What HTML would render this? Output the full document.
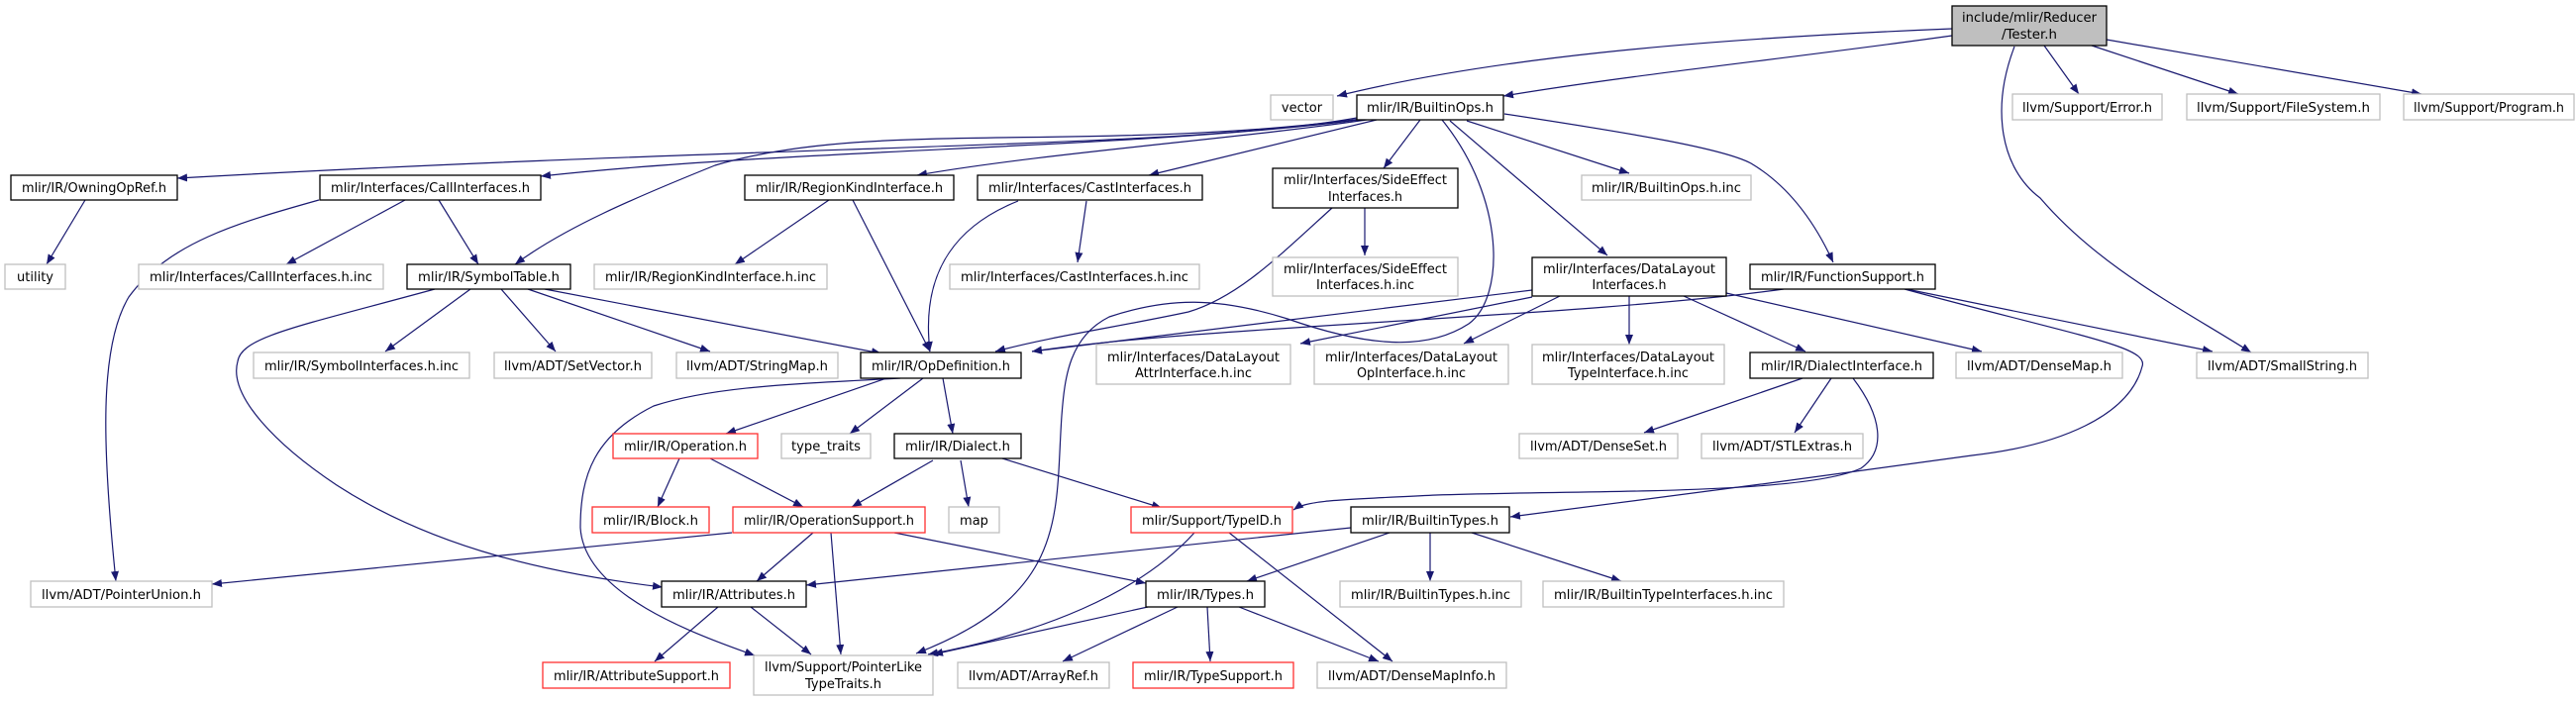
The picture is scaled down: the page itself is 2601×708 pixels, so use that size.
<!DOCTYPE html>
<html><head><meta charset="utf-8"><style>
html,body{margin:0;padding:0;background:#fff;}
svg{display:block;}
text{font-family:"DejaVu Sans","Liberation Sans",sans-serif;font-size:13px;fill:#000;}
.b{fill:#fff;stroke:#000;stroke-width:1.3}
.g{fill:#fff;stroke:#bfbfbf;stroke-width:1.3}
.r{fill:#fff;stroke:#ff3030;stroke-width:1.3}
.e{fill:none;stroke:#191970;stroke-width:1.2;marker-end:url(#a)}
</style></head><body>
<svg width="2601" height="708" viewBox="0 0 2601 708" xmlns="http://www.w3.org/2000/svg">
<defs><marker id="a" viewBox="0 0 10 8" refX="10" refY="4" markerWidth="10" markerHeight="8" markerUnits="userSpaceOnUse" orient="auto"><path d="M0,0 L10,4 L0,8 z" fill="#191970"/></marker></defs>

<!-- edges -->
<path class="e" d="M1971,29 C1700,40 1500,60 1350,97"/>
<path class="e" d="M1971,36 C1800,60 1650,75 1518,97"/>
<path class="e" d="M2064,46 L2099,95"/>
<path class="e" d="M2112,46 L2260,95"/>
<path class="e" d="M2127,40 L2445,95"/>
<path class="e" d="M2034,47 C2010,110 2020,170 2060,200 C2120,270 2200,310 2273,356"/>
<path class="e" d="M1370,119 C1200,150 800,145 179,180"/>
<path class="e" d="M1372,121 C1150,150 800,150 546,178"/>
<path class="e" d="M1375,120 C1100,155 880,120 722,167 C640,200 570,230 520,267"/>
<path class="e" d="M1380,121 C1250,140 1050,155 926,177"/>
<path class="e" d="M1390,121 L1160,177"/>
<path class="e" d="M1434,121 L1397,170"/>
<path class="e" d="M1456,121 C1520,200 1520,300 1483,327 C1440,355 1380,350 1300,322 C1230,300 1180,300 1120,320 C1080,340 1075,380 1072,420 C1065,520 1080,600 925,660"/>
<path class="e" d="M1464,122 L1623,258"/>
<path class="e" d="M1481,122 L1645,175"/>
<path class="e" d="M1519,115 C1650,135 1740,150 1768,165 C1810,190 1835,230 1851,265"/>
<path class="e" d="M861,202 L939,355"/>
<path class="e" d="M1028,203 C960,230 930,280 939,355"/>
<path class="e" d="M1097,203 L1088,265"/>
<path class="e" d="M1345,210 C1290,260 1250,300 1200,315 C1130,330 1060,340 1005,355"/>
<path class="e" d="M1378,210 L1378,258"/>
<path class="e" d="M1547,293 L1042,355"/>
<path class="e" d="M1547,300 L1313,347"/>
<path class="e" d="M1575,299 L1478,347"/>
<path class="e" d="M1645,299 L1645,348"/>
<path class="e" d="M1700,299 L1823,355"/>
<path class="e" d="M1743,296 L2001,355"/>
<path class="e" d="M1801,292 C1600,320 1200,330 1042,355"/>
<path class="e" d="M1925,292 L2234,355"/>
<path class="e" d="M1923,292 C2100,340 2170,350 2163,370 C2150,420 2080,450 1991,460 C1850,480 1650,506 1525,522"/>
<path class="e" d="M86,202 L47,267"/>
<path class="e" d="M409,202 L289,267"/>
<path class="e" d="M443,202 L483,267"/>
<path class="e" d="M837,202 L742,267"/>
<path class="e" d="M322,202 C240,225 170,245 130,300 C100,350 103,450 117,587"/>
<path class="e" d="M475,292 L389,355"/>
<path class="e" d="M506,292 L561,355"/>
<path class="e" d="M533,292 L717,355"/>
<path class="e" d="M550,292 L890,357"/>
<path class="e" d="M439,292 C300,330 244,340 240,365 C230,400 280,450 340,490 C440,555 560,580 669,593"/>
<path class="e" d="M895,382 L733,438"/>
<path class="e" d="M932,382 L858,438"/>
<path class="e" d="M952,382 L962,438"/>
<path class="e" d="M909,382 C800,388 722,390 660,410 C600,440 586,480 586,533 C590,600 700,640 762,662"/>
<path class="e" d="M1820,382 L1660,437"/>
<path class="e" d="M1849,382 L1812,437"/>
<path class="e" d="M1871,382 C1900,420 1905,455 1879,473 C1820,500 1600,495 1450,500 C1350,505 1320,505 1306,515"/>
<path class="e" d="M686,463 L664,512"/>
<path class="e" d="M717,463 L811,512"/>
<path class="e" d="M942,465 L860,512"/>
<path class="e" d="M970,465 L978,512"/>
<path class="e" d="M1012,463 L1173,513"/>
<path class="e" d="M739,538 L214,590"/>
<path class="e" d="M821,538 L764,587"/>
<path class="e" d="M839,538 L849,661"/>
<path class="e" d="M903,538 L1157,589"/>
<path class="e" d="M1364,533 L814,591"/>
<path class="e" d="M1206,538 C1150,600 1050,640 937,661"/>
<path class="e" d="M1241,538 L1406,668"/>
<path class="e" d="M1403,538 L1259,587"/>
<path class="e" d="M1444,538 L1444,587"/>
<path class="e" d="M1486,538 L1637,587"/>
<path class="e" d="M725,613 L661,668"/>
<path class="e" d="M758,613 L819,661"/>
<path class="e" d="M1159,613 L942,661"/>
<path class="e" d="M1189,613 L1073,668"/>
<path class="e" d="M1219,613 L1222,668"/>
<path class="e" d="M1251,613 L1392,668"/>

<!-- nodes -->
<rect x="1971" y="6" width="156" height="40" fill="#bfbfbf" stroke="#000" stroke-width="1.3"/>
<text x="2049" y="22" text-anchor="middle" textLength="136" lengthAdjust="spacingAndGlyphs">include/mlir/Reducer</text>
<text x="2049" y="39" text-anchor="middle" textLength="56" lengthAdjust="spacingAndGlyphs">/Tester.h</text>

<rect class="g" x="1283" y="96" width="63" height="25"/><text x="1314.5" y="113" text-anchor="middle">vector</text>
<rect class="b" x="1370" y="96" width="148" height="25"/><text x="1444" y="113" text-anchor="middle" textLength="128" lengthAdjust="spacingAndGlyphs">mlir/IR/BuiltinOps.h</text>
<rect class="g" x="2032" y="95" width="151" height="26"/><text x="2107.5" y="113" text-anchor="middle" textLength="131" lengthAdjust="spacingAndGlyphs">llvm/Support/Error.h</text>
<rect class="g" x="2208" y="95" width="195" height="26"/><text x="2305.5" y="113" text-anchor="middle" textLength="175" lengthAdjust="spacingAndGlyphs">llvm/Support/FileSystem.h</text>
<rect class="g" x="2427" y="95" width="172" height="26"/><text x="2513" y="113" text-anchor="middle" textLength="152" lengthAdjust="spacingAndGlyphs">llvm/Support/Program.h</text>

<rect class="b" x="11" y="177" width="168" height="25"/><text x="95" y="194" text-anchor="middle" textLength="146" lengthAdjust="spacingAndGlyphs">mlir/IR/OwningOpRef.h</text>
<rect class="b" x="323" y="177" width="223" height="25"/><text x="434.5" y="194" text-anchor="middle" textLength="201" lengthAdjust="spacingAndGlyphs">mlir/Interfaces/CallInterfaces.h</text>
<rect class="b" x="752" y="177" width="211" height="25"/><text x="857.5" y="194" text-anchor="middle" textLength="189" lengthAdjust="spacingAndGlyphs">mlir/IR/RegionKindInterface.h</text>
<rect class="b" x="987" y="177" width="227" height="25"/><text x="1100.5" y="194" text-anchor="middle" textLength="205" lengthAdjust="spacingAndGlyphs">mlir/Interfaces/CastInterfaces.h</text>
<rect class="b" x="1285" y="170" width="187" height="40"/>
<text x="1378.5" y="186" text-anchor="middle" textLength="165" lengthAdjust="spacingAndGlyphs">mlir/Interfaces/SideEffect</text>
<text x="1378.5" y="203" text-anchor="middle" textLength="75" lengthAdjust="spacingAndGlyphs">Interfaces.h</text>
<rect class="g" x="1597" y="177" width="171" height="25"/><text x="1682.5" y="194" text-anchor="middle" textLength="151" lengthAdjust="spacingAndGlyphs">mlir/IR/BuiltinOps.h.inc</text>

<rect class="g" x="5" y="267" width="61" height="25"/><text x="35.5" y="284" text-anchor="middle">utility</text>
<rect class="g" x="140" y="267" width="247" height="25"/><text x="263.5" y="284" text-anchor="middle" textLength="225" lengthAdjust="spacingAndGlyphs">mlir/Interfaces/CallInterfaces.h.inc</text>
<rect class="b" x="411" y="267" width="165" height="25"/><text x="493.5" y="284" text-anchor="middle" textLength="143" lengthAdjust="spacingAndGlyphs">mlir/IR/SymbolTable.h</text>
<rect class="g" x="600" y="267" width="235" height="25"/><text x="717.5" y="284" text-anchor="middle" textLength="213" lengthAdjust="spacingAndGlyphs">mlir/IR/RegionKindInterface.h.inc</text>
<rect class="g" x="959" y="267" width="252" height="25"/><text x="1085" y="284" text-anchor="middle" textLength="230" lengthAdjust="spacingAndGlyphs">mlir/Interfaces/CastInterfaces.h.inc</text>
<rect class="g" x="1285" y="260" width="187" height="39"/>
<text x="1378.5" y="276" text-anchor="middle" textLength="165" lengthAdjust="spacingAndGlyphs">mlir/Interfaces/SideEffect</text>
<text x="1378.5" y="292" text-anchor="middle" textLength="99" lengthAdjust="spacingAndGlyphs">Interfaces.h.inc</text>
<rect class="b" x="1547" y="260" width="196" height="39"/>
<text x="1645" y="276" text-anchor="middle" textLength="174" lengthAdjust="spacingAndGlyphs">mlir/Interfaces/DataLayout</text>
<text x="1645" y="292" text-anchor="middle" textLength="75" lengthAdjust="spacingAndGlyphs">Interfaces.h</text>
<rect class="b" x="1767" y="267" width="187" height="25"/><text x="1860.5" y="284" text-anchor="middle" textLength="165" lengthAdjust="spacingAndGlyphs">mlir/IR/FunctionSupport.h</text>

<rect class="g" x="256" y="356" width="218" height="26"/><text x="365" y="374" text-anchor="middle" textLength="196" lengthAdjust="spacingAndGlyphs">mlir/IR/SymbolInterfaces.h.inc</text>
<rect class="g" x="499" y="356" width="159" height="26"/><text x="578.5" y="374" text-anchor="middle" textLength="139" lengthAdjust="spacingAndGlyphs">llvm/ADT/SetVector.h</text>
<rect class="g" x="683" y="356" width="163" height="26"/><text x="764.5" y="374" text-anchor="middle" textLength="143" lengthAdjust="spacingAndGlyphs">llvm/ADT/StringMap.h</text>
<rect class="b" x="869" y="356" width="162" height="26"/><text x="950" y="374" text-anchor="middle" textLength="140" lengthAdjust="spacingAndGlyphs">mlir/IR/OpDefinition.h</text>
<rect class="g" x="1107" y="348" width="196" height="40"/>
<text x="1205" y="365" text-anchor="middle" textLength="174" lengthAdjust="spacingAndGlyphs">mlir/Interfaces/DataLayout</text>
<text x="1205" y="381" text-anchor="middle" textLength="118" lengthAdjust="spacingAndGlyphs">AttrInterface.h.inc</text>
<rect class="g" x="1327" y="348" width="196" height="40"/>
<text x="1425" y="365" text-anchor="middle" textLength="174" lengthAdjust="spacingAndGlyphs">mlir/Interfaces/DataLayout</text>
<text x="1425" y="381" text-anchor="middle" textLength="110" lengthAdjust="spacingAndGlyphs">OpInterface.h.inc</text>
<rect class="g" x="1547" y="348" width="194" height="40"/>
<text x="1644" y="365" text-anchor="middle" textLength="174" lengthAdjust="spacingAndGlyphs">mlir/Interfaces/DataLayout</text>
<text x="1644" y="381" text-anchor="middle" textLength="122" lengthAdjust="spacingAndGlyphs">TypeInterface.h.inc</text>
<rect class="b" x="1767" y="356" width="185" height="26"/><text x="1859.5" y="374" text-anchor="middle" textLength="163" lengthAdjust="spacingAndGlyphs">mlir/IR/DialectInterface.h</text>
<rect class="g" x="1975" y="356" width="168" height="26"/><text x="2059" y="374" text-anchor="middle" textLength="146" lengthAdjust="spacingAndGlyphs">llvm/ADT/DenseMap.h</text>
<rect class="g" x="2218" y="356" width="173" height="26"/><text x="2304.5" y="374" text-anchor="middle" textLength="151" lengthAdjust="spacingAndGlyphs">llvm/ADT/SmallString.h</text>

<rect class="r" x="619" y="438" width="146" height="25"/><text x="692" y="455" text-anchor="middle" textLength="124" lengthAdjust="spacingAndGlyphs">mlir/IR/Operation.h</text>
<rect class="g" x="789" y="438" width="90" height="25"/><text x="834" y="455" text-anchor="middle" textLength="70" lengthAdjust="spacingAndGlyphs">type_traits</text>
<rect class="b" x="903" y="438" width="128" height="25"/><text x="967" y="455" text-anchor="middle" textLength="106" lengthAdjust="spacingAndGlyphs">mlir/IR/Dialect.h</text>
<rect class="g" x="1534" y="438" width="160" height="25"/><text x="1614" y="455" text-anchor="middle" textLength="138" lengthAdjust="spacingAndGlyphs">llvm/ADT/DenseSet.h</text>
<rect class="g" x="1718" y="438" width="163" height="25"/><text x="1799.5" y="455" text-anchor="middle" textLength="141" lengthAdjust="spacingAndGlyphs">llvm/ADT/STLExtras.h</text>

<rect class="r" x="598" y="512" width="118" height="26"/><text x="657" y="530" text-anchor="middle" textLength="96" lengthAdjust="spacingAndGlyphs">mlir/IR/Block.h</text>
<rect class="r" x="740" y="512" width="194" height="26"/><text x="837" y="530" text-anchor="middle" textLength="172" lengthAdjust="spacingAndGlyphs">mlir/IR/OperationSupport.h</text>
<rect class="g" x="958" y="512" width="51" height="26"/><text x="983.5" y="530" text-anchor="middle">map</text>
<rect class="r" x="1142" y="512" width="163" height="26"/><text x="1223.5" y="530" text-anchor="middle" textLength="141" lengthAdjust="spacingAndGlyphs">mlir/Support/TypeID.h</text>
<rect class="b" x="1364" y="512" width="160" height="26"/><text x="1444" y="530" text-anchor="middle" textLength="138" lengthAdjust="spacingAndGlyphs">mlir/IR/BuiltinTypes.h</text>

<rect class="g" x="31" y="587" width="183" height="26"/><text x="122.5" y="605" text-anchor="middle" textLength="161" lengthAdjust="spacingAndGlyphs">llvm/ADT/PointerUnion.h</text>
<rect class="b" x="668" y="587" width="146" height="26"/><text x="741" y="605" text-anchor="middle" textLength="124" lengthAdjust="spacingAndGlyphs">mlir/IR/Attributes.h</text>
<rect class="b" x="1157" y="587" width="120" height="26"/><text x="1217" y="605" text-anchor="middle" textLength="98" lengthAdjust="spacingAndGlyphs">mlir/IR/Types.h</text>
<rect class="g" x="1353" y="587" width="183" height="26"/><text x="1444.5" y="605" text-anchor="middle" textLength="161" lengthAdjust="spacingAndGlyphs">mlir/IR/BuiltinTypes.h.inc</text>
<rect class="g" x="1558" y="587" width="243" height="26"/><text x="1679.5" y="605" text-anchor="middle" textLength="221" lengthAdjust="spacingAndGlyphs">mlir/IR/BuiltinTypeInterfaces.h.inc</text>

<rect class="r" x="548" y="669" width="189" height="26"/><text x="642.5" y="687" text-anchor="middle" textLength="167" lengthAdjust="spacingAndGlyphs">mlir/IR/AttributeSupport.h</text>
<rect class="g" x="761" y="662" width="181" height="40"/>
<text x="851.5" y="678" text-anchor="middle" textLength="159" lengthAdjust="spacingAndGlyphs">llvm/Support/PointerLike</text>
<text x="851.5" y="695" text-anchor="middle" textLength="77" lengthAdjust="spacingAndGlyphs">TypeTraits.h</text>
<rect class="g" x="967" y="669" width="153" height="26"/><text x="1043.5" y="687" text-anchor="middle" textLength="131" lengthAdjust="spacingAndGlyphs">llvm/ADT/ArrayRef.h</text>
<rect class="r" x="1144" y="669" width="162" height="26"/><text x="1225" y="687" text-anchor="middle" textLength="140" lengthAdjust="spacingAndGlyphs">mlir/IR/TypeSupport.h</text>
<rect class="g" x="1330" y="669" width="191" height="26"/><text x="1425.5" y="687" text-anchor="middle" textLength="169" lengthAdjust="spacingAndGlyphs">llvm/ADT/DenseMapInfo.h</text>
</svg>
</body></html>
